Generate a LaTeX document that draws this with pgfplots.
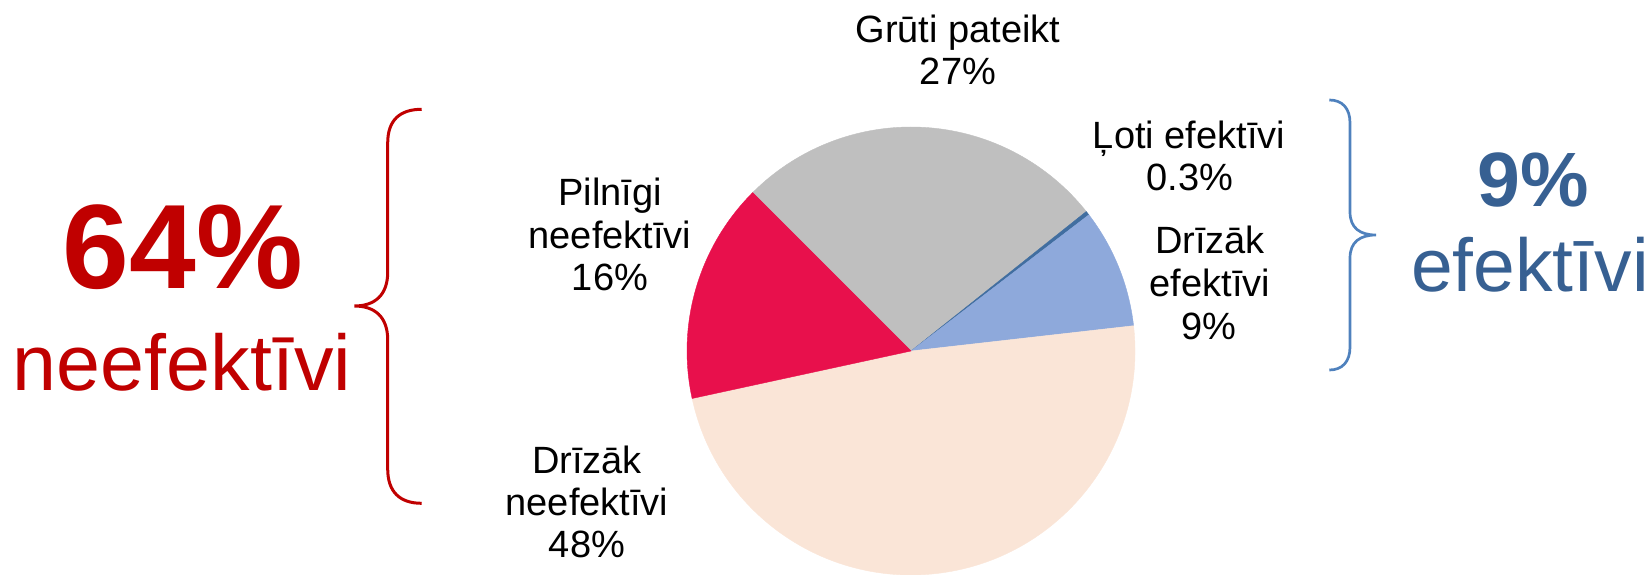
\documentclass[border=0pt]{standalone}
\usepackage{pgfplots}
\pgfplotsset{compat=1.18}
\usepackage{pgfplotstable}
\usepackage{fontspec}
\setmainfont{Liberation Sans}

\definecolor{cGray}{RGB}{191,191,191}
\definecolor{cDark}{RGB}{65,110,160}
\definecolor{cLight}{RGB}{142,169,219}
\definecolor{cPeach}{RGB}{250,229,215}
\definecolor{cRed}{RGB}{232,16,76}
\definecolor{bRed}{RGB}{192,0,0}
\definecolor{bBlue}{RGB}{79,129,189}
\definecolor{tBlue}{RGB}{55,96,146}

% shares in percent, clockwise from 135 degrees
\pgfplotstableread{
label value
Gruti 26.8
Loti 0.3
DrizakEf 8.6
DrizakNe 48.4
Pilnigi 15.9
}\piedata

\pgfmathsetmacro\aA{135}
\pgfplotstablegetelem{0}{value}\of\piedata \pgfmathsetmacro\aB{\aA-3.6*\pgfplotsretval}
\pgfplotstablegetelem{1}{value}\of\piedata \pgfmathsetmacro\aC{\aB-3.6*\pgfplotsretval}
\pgfplotstablegetelem{2}{value}\of\piedata \pgfmathsetmacro\aD{\aC-3.6*\pgfplotsretval}
\pgfplotstablegetelem{3}{value}\of\piedata \pgfmathsetmacro\aE{\aD-3.6*\pgfplotsretval}
\pgfplotstablegetelem{4}{value}\of\piedata \pgfmathsetmacro\aF{\aE-3.6*\pgfplotsretval}

\newcommand{\slice}[3]{%
  \filldraw[fill=#3,draw=#3,line width=0.2pt] (axis cs:0,0) -- (axis cs:{cos(#1)},{sin(#1)})
    arc[start angle=#1,end angle=#2,radius=112pt] -- cycle;}

\begin{document}
\begin{tikzpicture}
\begin{axis}[x=112pt,y=112pt,
  xmin=-4.0670,xmax=3.3080,ymin=-0.99554,ymax=1.5670,
  hide axis,clip=false,at={(0,0)},anchor=south west]
\slice{\aA}{\aB}{cGray}
\slice{\aB}{\aC}{cDark}
\slice{\aC}{\aD}{cLight}
\slice{\aD}{\aE}{cPeach}
\slice{\aE}{\aF}{cRed}
\end{axis}

\begin{scope}[x=0.5pt,y=-0.5pt,shift={(0pt,287pt)}]
\tikzset{lab/.style={anchor=base,inner sep=0pt,font=\fontsize{19pt}{21pt}\selectfont}}
\node[lab] at (958,42.7) {Grūti pateikt};
\node[lab] at (958,85) {27\%};
\node[lab] at (1189,148.3) {Ļoti efektīvi};
\node[lab] at (1190,190.7) {0.3\%};
\node[lab] at (1210,253.3) {Drīzāk};
\node[lab] at (1210,296) {efektīvi};
\node[lab] at (1209,339.3) {9\%};
\node[lab] at (610,205) {Pilnīgi};
\node[lab] at (610,248.3) {neefektīvi};
\node[lab] at (610,290) {16\%};
\node[lab] at (587,473.3) {Drīzāk};
\node[lab] at (587,515) {neefektīvi};
\node[lab] at (587,557) {48\%};

\node[anchor=base,inner sep=0pt,text=bRed,font=\fontsize{60pt}{62pt}\selectfont\bfseries] at (183,288.3) {64\%};
\node[anchor=base,inner sep=0pt,text=bRed,font=\fontsize{39.5pt}{42pt}\selectfont] at (182,390) {neefektīvi};
\node[anchor=base,inner sep=0pt,text=tBlue,font=\fontsize{38.5pt}{40pt}\selectfont\bfseries] at (1533,206) {9\%};
\node[anchor=base,inner sep=0pt,text=tBlue,font=\fontsize{37.5pt}{40pt}\selectfont] at (1530,291.7) {efektīvi};

\draw[bRed,line width=1.5pt] (421.7,109.3) .. controls (400,109.3) and (387.7,120) .. (387.7,143)
  -- (387.7,272) .. controls (387.7,295) and (375,306) .. (354.3,306)
  .. controls (375,306) and (387.7,317) .. (387.7,340)
  -- (387.7,469) .. controls (387.7,492) and (400,503.3) .. (421.7,503.3);
\draw[bBlue,line width=1.35pt] (1329.3,100) .. controls (1342,100) and (1350,108) .. (1350,123)
  -- (1350,212) .. controls (1350,228) and (1360,235) .. (1376,235)
  .. controls (1360,235) and (1350,242) .. (1350,258)
  -- (1350,347) .. controls (1350,362) and (1342,370) .. (1329.3,370);
\end{scope}
\pgfresetboundingbox
\path (0,0) rectangle (826pt,287pt);
\end{tikzpicture}
\end{document}
